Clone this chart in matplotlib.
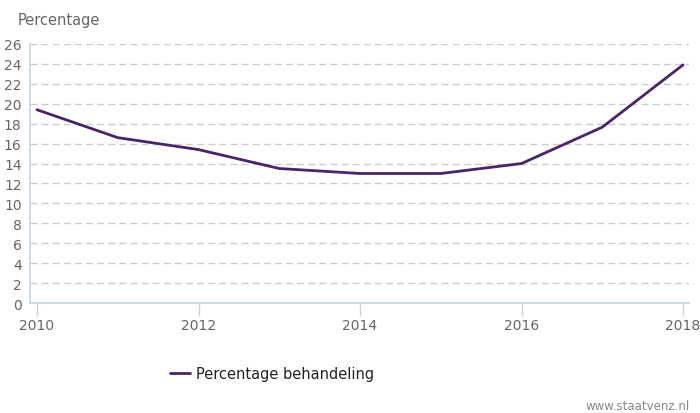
import matplotlib
matplotlib.use("Agg")
import matplotlib.pyplot as plt

years = [2010, 2011, 2012, 2013, 2014, 2015, 2016, 2017, 2018]
values = [19.4, 16.6, 15.4, 13.5, 13.0, 13.0, 14.0, 17.65, 23.9]
yticks = list(range(0, 27, 2))
xticks = [2010, 2012, 2014, 2016, 2018]
series_name = "Percentage behandeling"

fig = plt.figure(figsize=(7.0, 4.14), dpi=100)
W, H = 700, 414
left, right, top, bottom = 30, 689, 45, 304
ax = fig.add_axes([left / W, 1 - bottom / H, (right - left) / W, (bottom - top) / H])

line_color = "#4a2468"
axis_color = "#c5d5e6"
text_color = "#666666"

ax.plot(years, values, color=line_color, linewidth=2.0, solid_capstyle="round", label=series_name, zorder=3)

ax.set_xlim(2010 - 7 / 80.75, 2018 + 6 / 80.75)
ax.set_ylim(0, 26)
ax.set_yticks(yticks)
ax.set_xticks(xticks)
ax.set_xticklabels([str(x) for x in xticks])
ax.set_yticklabels([str(y) for y in yticks])

for y in yticks[1:]:
    ax.axhline(y, color="#cccccc", linewidth=1.0, linestyle=(0, (5, 3)), zorder=1)

for s in ["top", "right"]:
    ax.spines[s].set_visible(False)
for s in ["left", "bottom"]:
    ax.spines[s].set_color(axis_color)
    ax.spines[s].set_linewidth(1.2)

ax.tick_params(axis="y", length=0, pad=6, labelsize=10, labelcolor=text_color)
ax.tick_params(axis="x", length=9, width=1.0, color=axis_color, pad=2, labelsize=10, labelcolor=text_color, direction="out")

fig.text(18 / W, 1 - 21 / H, "Percentage", fontsize=10.5, color=text_color, ha="left", va="center")

leg = fig.legend(loc="center", bbox_to_anchor=(272 / W, 1 - 375 / H), frameon=False,
                 fontsize=10.5, handlelength=1.4, handletextpad=0.4)
for t in leg.get_texts():
    t.set_color("#222222")

fig.text(690 / W, 1 - 407 / H, "www.staatvenz.nl", fontsize=8.5, color="#888888", ha="right", va="center")

fig.savefig("out.png", dpi=100)
